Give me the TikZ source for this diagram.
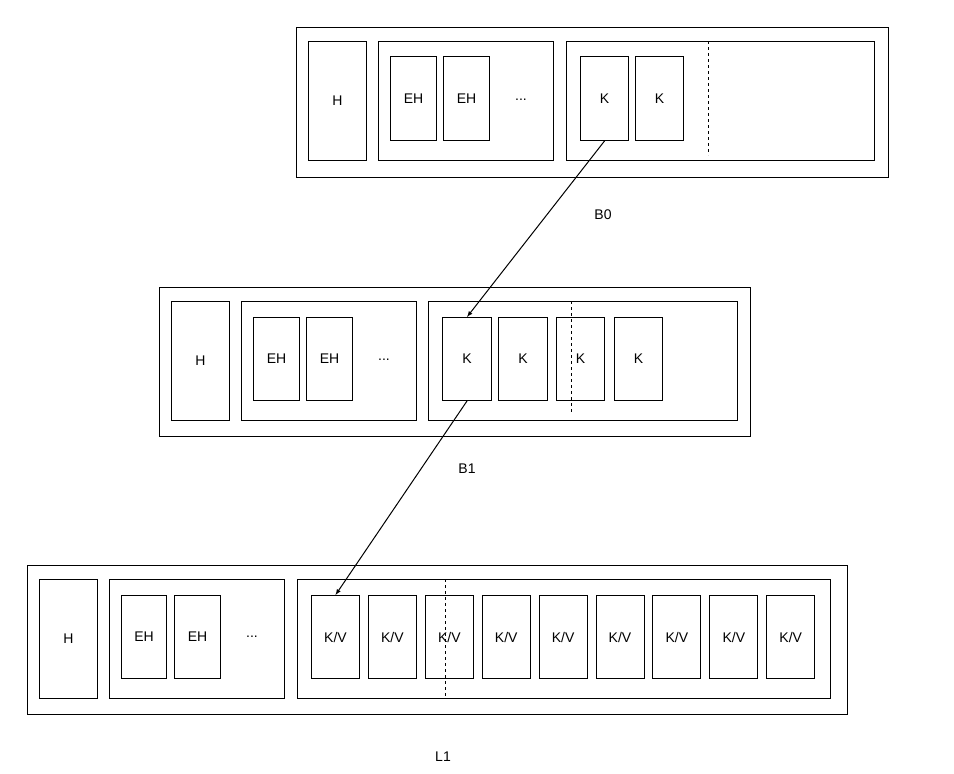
\documentclass[tikz,border=0pt]{standalone}
\usepackage{fontspec}
\setmainfont{Liberation Sans}
\begin{document}
\begin{tikzpicture}[x=1pt,y=-1pt,
  bx/.style={draw,line width=1pt,inner sep=0pt,anchor=north west},
  lbl/.style={font=\fontsize{14}{16}\selectfont},
  arr/.style={-latex,line width=1pt}]
\useasboundingbox (0,0) rectangle (954,774);
\newcommand{\rbox}[5]{\node[bx,minimum width=#4-#2,minimum height=#5-#3] (#1) at (#2,#3) {};}
\newcommand{\tbox}[6]{\node[bx,minimum width=#4-#2,minimum height=#5-#3,lbl] (#1) at (#2,#3) {};\node[lbl] at (#1.center) {#6};}
% top
\rbox{o0}{296}{27}{888}{177}
\tbox{h0}{308}{41}{366}{160}{H}
\rbox{g0}{378}{41}{553}{160}
\tbox{e0a}{390}{56}{436}{140}{EH}
\tbox{e0b}{443}{56}{489}{140}{EH}
\node[lbl] (d0) at (521,100) {...};
\rbox{k0}{566}{41}{874}{160}
\tbox{k0a}{580}{56}{628}{140}{K}
\tbox{k0b}{635}{56}{683}{140}{K}
\draw[dashed,line width=1pt] (708,41) coordinate (s0) -- (708,155) coordinate (t0);
\node[lbl] (b0) at (603,215) {B0};
% middle
\rbox{o1}{159}{287}{750}{436}
\tbox{h1}{171}{301}{229}{420}{H}
\rbox{g1}{241}{301}{416}{420}
\tbox{e1a}{253}{317}{299}{400}{EH}
\tbox{e1b}{306}{317}{352}{400}{EH}
\node[lbl] (d1) at (384,360) {...};
\rbox{k1}{428}{301}{737}{420}
\tbox{k1a}{442}{317}{491}{400}{K}
\tbox{k1b}{498}{317}{547}{400}{K}
\tbox{k1c}{556}{317}{604}{400}{K}
\tbox{k1d}{614}{317}{662}{400}{K}
\draw[dashed,line width=1pt] (571,301) coordinate (s1) -- (571,413) coordinate (t1);
\node[lbl] (b1) at (467,469) {B1};
% bottom
\rbox{o2}{27}{565}{847}{714}
\tbox{h2}{39}{579}{97}{698}{H}
\rbox{g2}{109}{579}{284}{698}
\tbox{e2a}{121}{595}{166}{678}{EH}
\tbox{e2b}{174}{595}{220}{678}{EH}
\node[lbl] (d2) at (252,637) {...};
\rbox{k2}{297}{579}{830}{698}
\foreach \i in {0,...,8}{
  \pgfmathsetmacro{\xa}{311+56.9*\i}
  \pgfmathsetmacro{\xb}{\xa+48}
  \tbox{kv\i}{\xa}{595}{\xb}{678}{K/V}
}
\draw[dashed,line width=1pt] (445,579) coordinate (s2) -- (445,698) coordinate (t2);
\node[lbl] (l1) at (443,757) {L1};
% arrows
\draw[arr] (k0a.south) -- (k1a.north);
\draw[arr] (k1a.south) -- (kv0.north);
\end{tikzpicture}
\end{document}
